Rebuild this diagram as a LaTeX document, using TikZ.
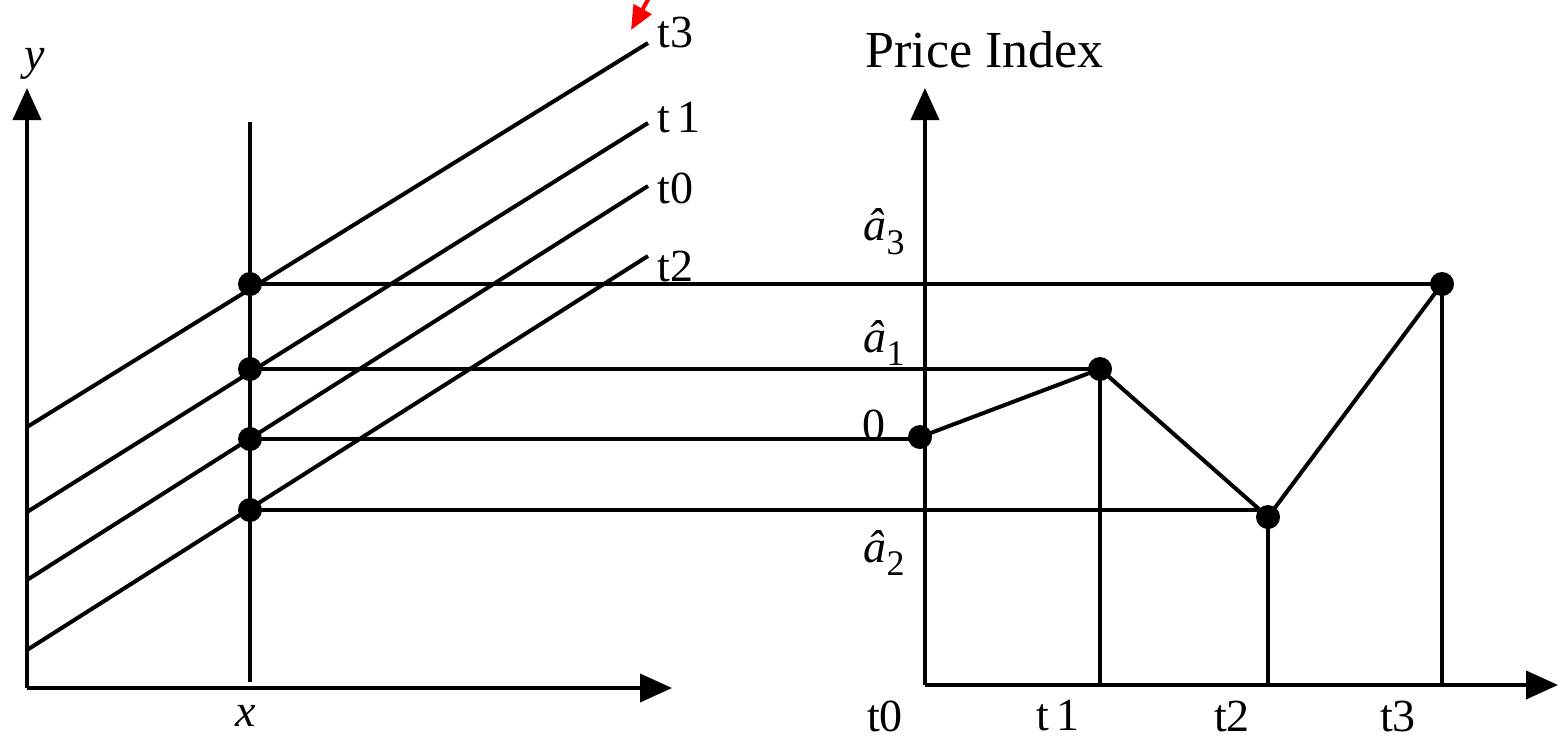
\documentclass[tikz,border=0pt]{standalone}
\usepackage{fontspec}
\setmainfont{Liberation Serif}
\usetikzlibrary{arrows.meta}
\newcommand{\ahat}[1]{\textit{â}\raisebox{-0.3em}{\fontsize{18}{19}\selectfont #1}}
\begin{document}
\begin{tikzpicture}[x=0.5pt,y=-0.5pt,
  ln/.style={line width=2pt},
  ax/.style={line width=2pt,-{Triangle[length=16pt,width=14pt]}},
  dot/.style={circle,fill=black,inner sep=0pt,minimum size=12pt},
  lab/.style={font=\fontsize{23}{25}\selectfont,inner sep=0pt}]
\useasboundingbox (0,0) rectangle (1560,740);
% left axes
\coordinate (LO) at (27,688);
\coordinate (LYT) at (27,88);
\coordinate (LXT) at (672,688);
\draw[ax] (LO) -- (LYT);
\draw[ax] (LO) -- (LXT);
\coordinate (VT) at (250,122);
\coordinate (VB) at (250,682);
\draw[ln] (VT) -- (VB);
% sloped lines
\coordinate (a3) at (27,427); \coordinate (b3) at (648,43);
\coordinate (a1) at (27,512); \coordinate (b1) at (648,123);
\coordinate (a0) at (27,580); \coordinate (b0) at (648,186);
\coordinate (a2) at (27,650); \coordinate (b2) at (648,256);
\draw[ln] (a3) -- (b3);
\draw[ln] (a1) -- (b1);
\draw[ln] (a0) -- (b0);
\draw[ln] (a2) -- (b2);
\node[lab,anchor=west] (lt3) at (657,32) {t3};
\node[lab,anchor=west] (lt1) at (657,118) {t\,1};
\node[lab,anchor=west] (lt0) at (657,188) {t0};
\node[lab,anchor=west] (lt2) at (657,266) {t2};
\node[lab] (ly) at (35,64) {\itshape y};
\node[lab] (lx) at (246,716) {\itshape x};
% red arrow
\coordinate (r1) at (650,-4);
\coordinate (r2) at (631,30);
\draw[red,line width=2pt,-{Triangle[length=12pt,width=10pt]}] (r1) -- (r2);
% right axes
\coordinate (RO) at (925,685);
\coordinate (RYT) at (925,88);
\coordinate (RXT) at (1558,685);
\draw[ax] (RO) -- (RYT);
\draw[ax] (RO) -- (RXT);
% points
\node[dot] (L3) at (250,284) {};
\node[dot] (L1) at (250,369) {};
\node[dot] (L0) at (250,439) {};
\node[dot] (L2) at (250,510) {};
\node[dot] (R0) at (920,437) {};
\node[dot] (R1) at (1100,369) {};
\node[dot] (R2) at (1268,517) {};
\node[dot] (R3) at (1442,284) {};
% horizontal projections
\draw[ln] (L3.center) -- (L3.center -| R3);
\draw[ln] (L1.center) -- (L1.center -| R1);
\draw[ln] (L0.center) -- (L0.center -| R0);
\draw[ln] (L2.center) -- (L2.center -| R2);
% polyline
\draw[ln] (R0.center) -- (R1.center) -- (R2.center) -- (R3.center);
% verticals
\draw[ln] (R1.center) -- (R1.center |- RO);
\draw[ln] (R2.center) -- (R2.center |- RO);
\draw[ln] (R3.center) -- (R3.center |- RO);
% labels
\node[lab,anchor=west,font=\fontsize{26}{28}\selectfont] (pi) at (865,50) {Price Index};
\node[lab] (la3) at (884,232) {\ahat{3}};
\node[lab] (la1) at (884,343) {\ahat{1}};
\node[lab] (l0) at (874,425) {0};
\node[lab] (la2) at (884,553) {\ahat{2}};
\node[lab] (bt0) at (885,716) {t0};
\node[lab] (bt1) at (1058,716) {t\,1};
\node[lab] (bt2) at (1232,716) {t2};
\node[lab] (bt3) at (1398,716) {t3};
\end{tikzpicture}
\end{document}
